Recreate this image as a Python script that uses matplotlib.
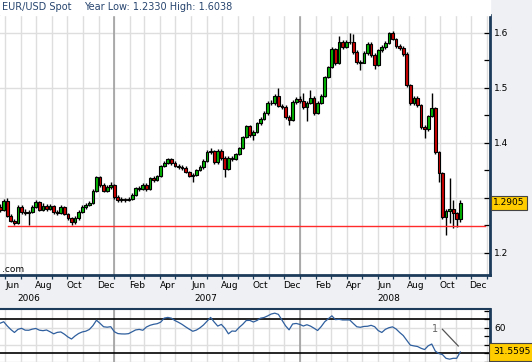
import matplotlib
matplotlib.use("Agg")
import matplotlib.pyplot as plt
import matplotlib.dates as mdates
from matplotlib.patches import Rectangle
import pandas as pd

# weekly EUR/USD bars, May 2006 - Nov 2008
weeks = pd.date_range("2006-05-22", periods=130, freq="7D")

first_open = 1.2830
close = [1.2776, 1.2940, 1.2667, 1.2576, 1.2540, 1.2831, 1.2740, 1.2722, 1.2740, 1.2831,
         1.2922, 1.2776, 1.2849, 1.2795, 1.2849, 1.2740, 1.2722, 1.2831, 1.2704, 1.2631,
         1.2558, 1.2631, 1.2740, 1.2831, 1.2867, 1.2904, 1.3122, 1.3376, 1.3231, 1.3122,
         1.3195, 1.3231, 1.3013, 1.2958, 1.2976, 1.2967, 1.2976, 1.3049, 1.3176, 1.3167,
         1.3231, 1.3158, 1.3358, 1.3322, 1.3395, 1.3576, 1.3631, 1.3704, 1.3631, 1.3576,
         1.3558, 1.3540, 1.3467, 1.3395, 1.3413, 1.3504, 1.3558, 1.3667, 1.3831, 1.3849,
         1.3649, 1.3849, 1.3722, 1.3522, 1.3722, 1.3704, 1.3795, 1.3904, 1.4104, 1.4304,
         1.4140, 1.4195, 1.4358, 1.4431, 1.4540, 1.4722, 1.4713, 1.4849, 1.4667, 1.4658,
         1.4467, 1.4413, 1.4740, 1.4795, 1.4758, 1.4649, 1.4722, 1.4813, 1.4540, 1.4722,
         1.4849, 1.5195, 1.5376, 1.5704, 1.5449, 1.5831, 1.5740, 1.5831, 1.5822, 1.5649,
         1.5467, 1.5458, 1.5631, 1.5794, 1.5595, 1.5413, 1.5685, 1.5740, 1.5813, 1.5994,
         1.5885, 1.5758, 1.5722, 1.5613, 1.5049, 1.4722, 1.4813, 1.4685, 1.4285, 1.4249,
         1.4485, 1.4631, 1.3831, 1.3449, 1.2649, 1.2758, 1.2795, 1.2722, 1.2613, 1.2905]
high = [1.2880, 1.2975, 1.2990, 1.2700, 1.2610, 1.2860, 1.2870, 1.2790, 1.2780, 1.2860,
        1.2950, 1.2945, 1.2900, 1.2880, 1.2880, 1.2870, 1.2780, 1.2860, 1.2850, 1.2730,
        1.2650, 1.2660, 1.2770, 1.2860, 1.2900, 1.2940, 1.3150, 1.3400, 1.3400, 1.3260,
        1.3230, 1.3280, 1.3250, 1.3040, 1.3010, 1.3000, 1.3010, 1.3080, 1.3200, 1.3210,
        1.3260, 1.3260, 1.3380, 1.3390, 1.3420, 1.3600, 1.3660, 1.3730, 1.3720, 1.3660,
        1.3610, 1.3590, 1.3570, 1.3490, 1.3450, 1.3530, 1.3590, 1.3700, 1.3860, 1.3900,
        1.3870, 1.3880, 1.3880, 1.3750, 1.3750, 1.3760, 1.3820, 1.3930, 1.4130, 1.4330,
        1.4330, 1.4230, 1.4380, 1.4460, 1.4570, 1.4750, 1.4770, 1.4880, 1.4990, 1.4710,
        1.4690, 1.4500, 1.4770, 1.4830, 1.4840, 1.4900, 1.4760, 1.4959, 1.4840, 1.4760,
        1.4880, 1.5220, 1.5400, 1.5740, 1.5730, 1.5940, 1.5870, 1.5860, 1.5990, 1.5985,
        1.5680, 1.5500, 1.5660, 1.5830, 1.5830, 1.5630, 1.5710, 1.5770, 1.5840, 1.6010,
        1.6038, 1.5910, 1.5790, 1.5750, 1.5640, 1.5060, 1.4850, 1.4840, 1.4700, 1.4320,
        1.4510, 1.4904, 1.4650, 1.3840, 1.3470, 1.2790, 1.3358, 1.2958, 1.2740, 1.2958]
low = [1.2740, 1.2750, 1.2640, 1.2550, 1.2510, 1.2520, 1.2710, 1.2680, 1.2500, 1.2720,
       1.2810, 1.2750, 1.2750, 1.2760, 1.2770, 1.2710, 1.2690, 1.2700, 1.2680, 1.2600,
       1.2510, 1.2515, 1.2600, 1.2720, 1.2800, 1.2840, 1.2890, 1.3100, 1.3200, 1.3100,
       1.3100, 1.3160, 1.2980, 1.2920, 1.2930, 1.2930, 1.2940, 1.2950, 1.3030, 1.3130,
       1.3140, 1.3120, 1.3140, 1.3290, 1.3300, 1.3370, 1.3550, 1.3610, 1.3600, 1.3550,
       1.3530, 1.3510, 1.3440, 1.3370, 1.3285, 1.3390, 1.3480, 1.3530, 1.3640, 1.3800,
       1.3620, 1.3620, 1.3690, 1.3376, 1.3500, 1.3670, 1.3680, 1.3770, 1.3880, 1.4080,
       1.4110, 1.4050, 1.4170, 1.4330, 1.4410, 1.4510, 1.4680, 1.4690, 1.4640, 1.4620,
       1.4430, 1.4330, 1.4390, 1.4710, 1.4720, 1.4620, 1.4395, 1.4700, 1.4510, 1.4520,
       1.4700, 1.4830, 1.5170, 1.5350, 1.5420, 1.5430, 1.5710, 1.5720, 1.5790, 1.5620,
       1.5430, 1.5321, 1.5440, 1.5600, 1.5560, 1.5340, 1.5390, 1.5650, 1.5710, 1.5790,
       1.5860, 1.5730, 1.5690, 1.5580, 1.5020, 1.4690, 1.4680, 1.4640, 1.4250, 1.4086,
       1.4220, 1.4460, 1.3800, 1.3286, 1.2620, 1.2330, 1.2540, 1.2449, 1.2467, 1.2558]
rsi = [65.4, 67.1, 62.1, 57.9, 54.5, 58.2, 59.4, 57.2, 57.1, 58.4,
       59.2, 57.2, 56.6, 57.4, 55.3, 52.9, 54.6, 55.1, 52.5, 49.2,
       46.8, 50.4, 53.3, 55.1, 56.0, 58.0, 62.5, 68.9, 65.2, 61.2,
       60.7, 61.3, 55.4, 53.2, 52.8, 52.7, 53.1, 55.3, 57.5, 58.1,
       57.1, 60.9, 62.9, 64.1, 64.8, 66.6, 71.4, 72.2, 71.3, 68.5,
       66.4, 64.0, 61.1, 58.4, 55.9, 57.3, 59.9, 63.3, 67.8, 72.2,
       66.8, 62.0, 64.0, 59.5, 52.9, 56.2, 55.9, 60.4, 64.1, 68.6,
       68.7, 66.8, 68.6, 71.3, 72.1, 74.0, 76.2, 77.2, 75.8, 69.1,
       62.4, 57.6, 64.5, 65.1, 64.0, 62.1, 63.6, 62.0, 59.5, 56.8,
       61.4, 67.1, 70.6, 74.1, 69.6, 70.0, 69.2, 69.2, 69.2, 65.1,
       61.2, 60.6, 61.6, 61.8, 62.9, 61.3, 56.7, 54.5, 58.2, 60.1,
       61.1, 58.6, 54.5, 50.9, 45.2, 39.6, 38.7, 38.0, 35.9, 34.4,
       38.8, 40.9, 32.6, 29.7, 28.5, 24.1, 23.1, 24.1, 24.1, 31.5595]

year_low, year_high = 1.2330, 1.6038
support_level = 1.2485
support_span = ["2006-06-06", "2008-12-28"]
year_labels = {"2006": "2006-07-18", "2007": "2007-06-30", "2008": "2008-06-22"}
trend_note = ("2008-09-22", 58.4)
trend_line = (["2008-10-06", "2008-11-06"], [58.2, 38.6])

NAVY = "#1c3b5a"
GRID = "#dedede"
UP, DOWN = "#00b400", "#cc0000"
BG = "#eef0f3"

opens = [first_open] + close[:-1]
x = mdates.date2num(weeks)
xlim = (mdates.datestr2num("2006-05-21 16:00"), mdates.datestr2num("2009-01-07 08:00"))

fig = plt.figure(figsize=(5.32, 3.62), dpi=100, facecolor=BG)
fig.patches.append(Rectangle((0, 347 / 362), 490 / 532, 15 / 362,
                             transform=fig.transFigure, color="white", zorder=0))

ax = fig.add_axes([0, 87 / 362, 490 / 532, 260 / 362])
ax2 = fig.add_axes([0, 0, 490 / 532, 53 / 362])

# ---- price panel
for i in range(len(x)):
    ax.vlines(x[i], low[i], high[i], color="black", lw=1.0, zorder=3)
    col = UP if close[i] >= opens[i] else DOWN
    ax.bar(x[i], abs(close[i] - opens[i]) or 0.0004, width=5.4,
           bottom=min(close[i], opens[i]), color=col, edgecolor="black",
           linewidth=0.8, zorder=4)

ax.plot(mdates.datestr2num(support_span), [support_level] * 2, color="#ff2a2a", lw=1, zorder=5)

ax.set_xlim(xlim)
ax.set_ylim(1.15945, 1.63218)
ax.yaxis.tick_right()
ax.set_yticks([1.2, 1.3, 1.4, 1.5, 1.6])
# 1.3 sits under the last-price box
ax.set_yticklabels(["1.2", "", "1.4", "1.5", "1.6"])
ax.set_yticks([1.25, 1.35, 1.45, 1.55], minor=True)
ax.tick_params(axis="y", which="both", direction="in", length=4, width=0.9,
               pad=3, labelsize=6.5, right=True, left=False)

ax.xaxis.set_minor_locator(mdates.MonthLocator())
ax.xaxis.set_major_locator(mdates.MonthLocator(bymonth=[2, 4, 6, 8, 10, 12], bymonthday=15))
ax.xaxis.set_major_formatter(mdates.DateFormatter("%b"))
ax.tick_params(axis="x", which="major", length=0, pad=4.5, labelsize=6.5)
ax.tick_params(axis="x", which="minor", length=3, width=0.9, color=NAVY)

ax.grid(axis="x", which="minor", color=GRID, lw=1, zorder=0)
ax.grid(axis="y", which="major", color=GRID, lw=1, zorder=0)
ax.set_axisbelow(True)
for yr in ["2007-01-01", "2008-01-01"]:
    ax.axvline(mdates.datestr2num(yr), color="#9a9a9a", lw=1.1, zorder=1)
    ax2.axvline(mdates.datestr2num(yr), color="#9a9a9a", lw=1.1, zorder=1)

ax.spines["left"].set_visible(False)
ax.spines["top"].set_color("black")
ax.spines["top"].set_linewidth(1.4)
for s in ["bottom", "right"]:
    ax.spines[s].set_color(NAVY)
    ax.spines[s].set_linewidth(2)

for lab, d in year_labels.items():
    ax.text(mdates.datestr2num(d), -0.0885, lab, transform=ax.get_xaxis_transform(),
            ha="center", va="center", fontsize=6.5)

ax.text(0.004, 0.023, ".com", transform=ax.transAxes, fontsize=6.5, va="center")
ax.text(1.0065, close[-1], f"{close[-1]:.4f}", transform=ax.get_yaxis_transform(),
        fontsize=6.5, va="center", ha="left", zorder=10, clip_on=False,
        bbox=dict(boxstyle="square,pad=0.25", fc="#ffcc00", ec="#444444", lw=0.8))

fig.text(2 / 532, 1 - 7.5 / 362, "EUR/USD Spot", fontsize=7, color="#27456f", va="center")
fig.text(84 / 532, 1 - 7.5 / 362, f"Year Low: {year_low:.4f} High: {year_high:.4f}",
         fontsize=7, color="#27456f", va="center")

# ---- indicator panel
ax2.plot(x, rsi, color="#2f5f9e", lw=0.9, zorder=4)
ax2.axhline(70, color="black", lw=1.2, zorder=3)
ax2.axhline(30, color="black", lw=1.2, zorder=3)
ax2.text(mdates.datestr2num(trend_note[0]), trend_note[1], "1", fontsize=7,
         color="#666666", ha="center", va="center")
ax2.plot(mdates.datestr2num(trend_line[0]), trend_line[1], color="#555555", lw=0.9)

ax2.set_xlim(xlim)
ax2.set_ylim(19.76, 82.1)
ax2.xaxis.set_minor_locator(mdates.MonthLocator())
ax2.xaxis.set_major_locator(mdates.MonthLocator(bymonth=[2, 4, 6, 8, 10, 12], bymonthday=15))
ax2.tick_params(axis="x", which="both", length=0, labelbottom=False)
ax2.grid(axis="x", which="minor", color=GRID, lw=1, zorder=0)
ax2.yaxis.tick_right()
ax2.set_yticks([20, 40, 60])
# 40 sits under the last-value box, 20 falls off the bottom edge
ax2.set_yticklabels(["", "", "60"])
ax2.set_yticks([30, 50, 70, 80], minor=True)
ax2.tick_params(axis="y", which="both", direction="in", length=4, width=0.9,
                pad=3, labelsize=6.5, right=True, left=False)
ax2.grid(axis="y", which="major", color=GRID, lw=1, zorder=0)
ax2.set_axisbelow(True)
for s in ["left", "bottom"]:
    ax2.spines[s].set_visible(False)
ax2.spines["top"].set_color(NAVY)
ax2.spines["top"].set_linewidth(1.5)
ax2.spines["right"].set_color(NAVY)
ax2.spines["right"].set_linewidth(2)
ax2.text(1.0065, rsi[-1], f"{rsi[-1]:.4f}", transform=ax2.get_yaxis_transform(),
         fontsize=6.5, va="center", ha="left", zorder=10, clip_on=False,
         bbox=dict(boxstyle="square,pad=0.45", fc="#ffcc00", ec="#444444", lw=0.8))

fig.savefig("out.png", dpi=100, facecolor=BG)
